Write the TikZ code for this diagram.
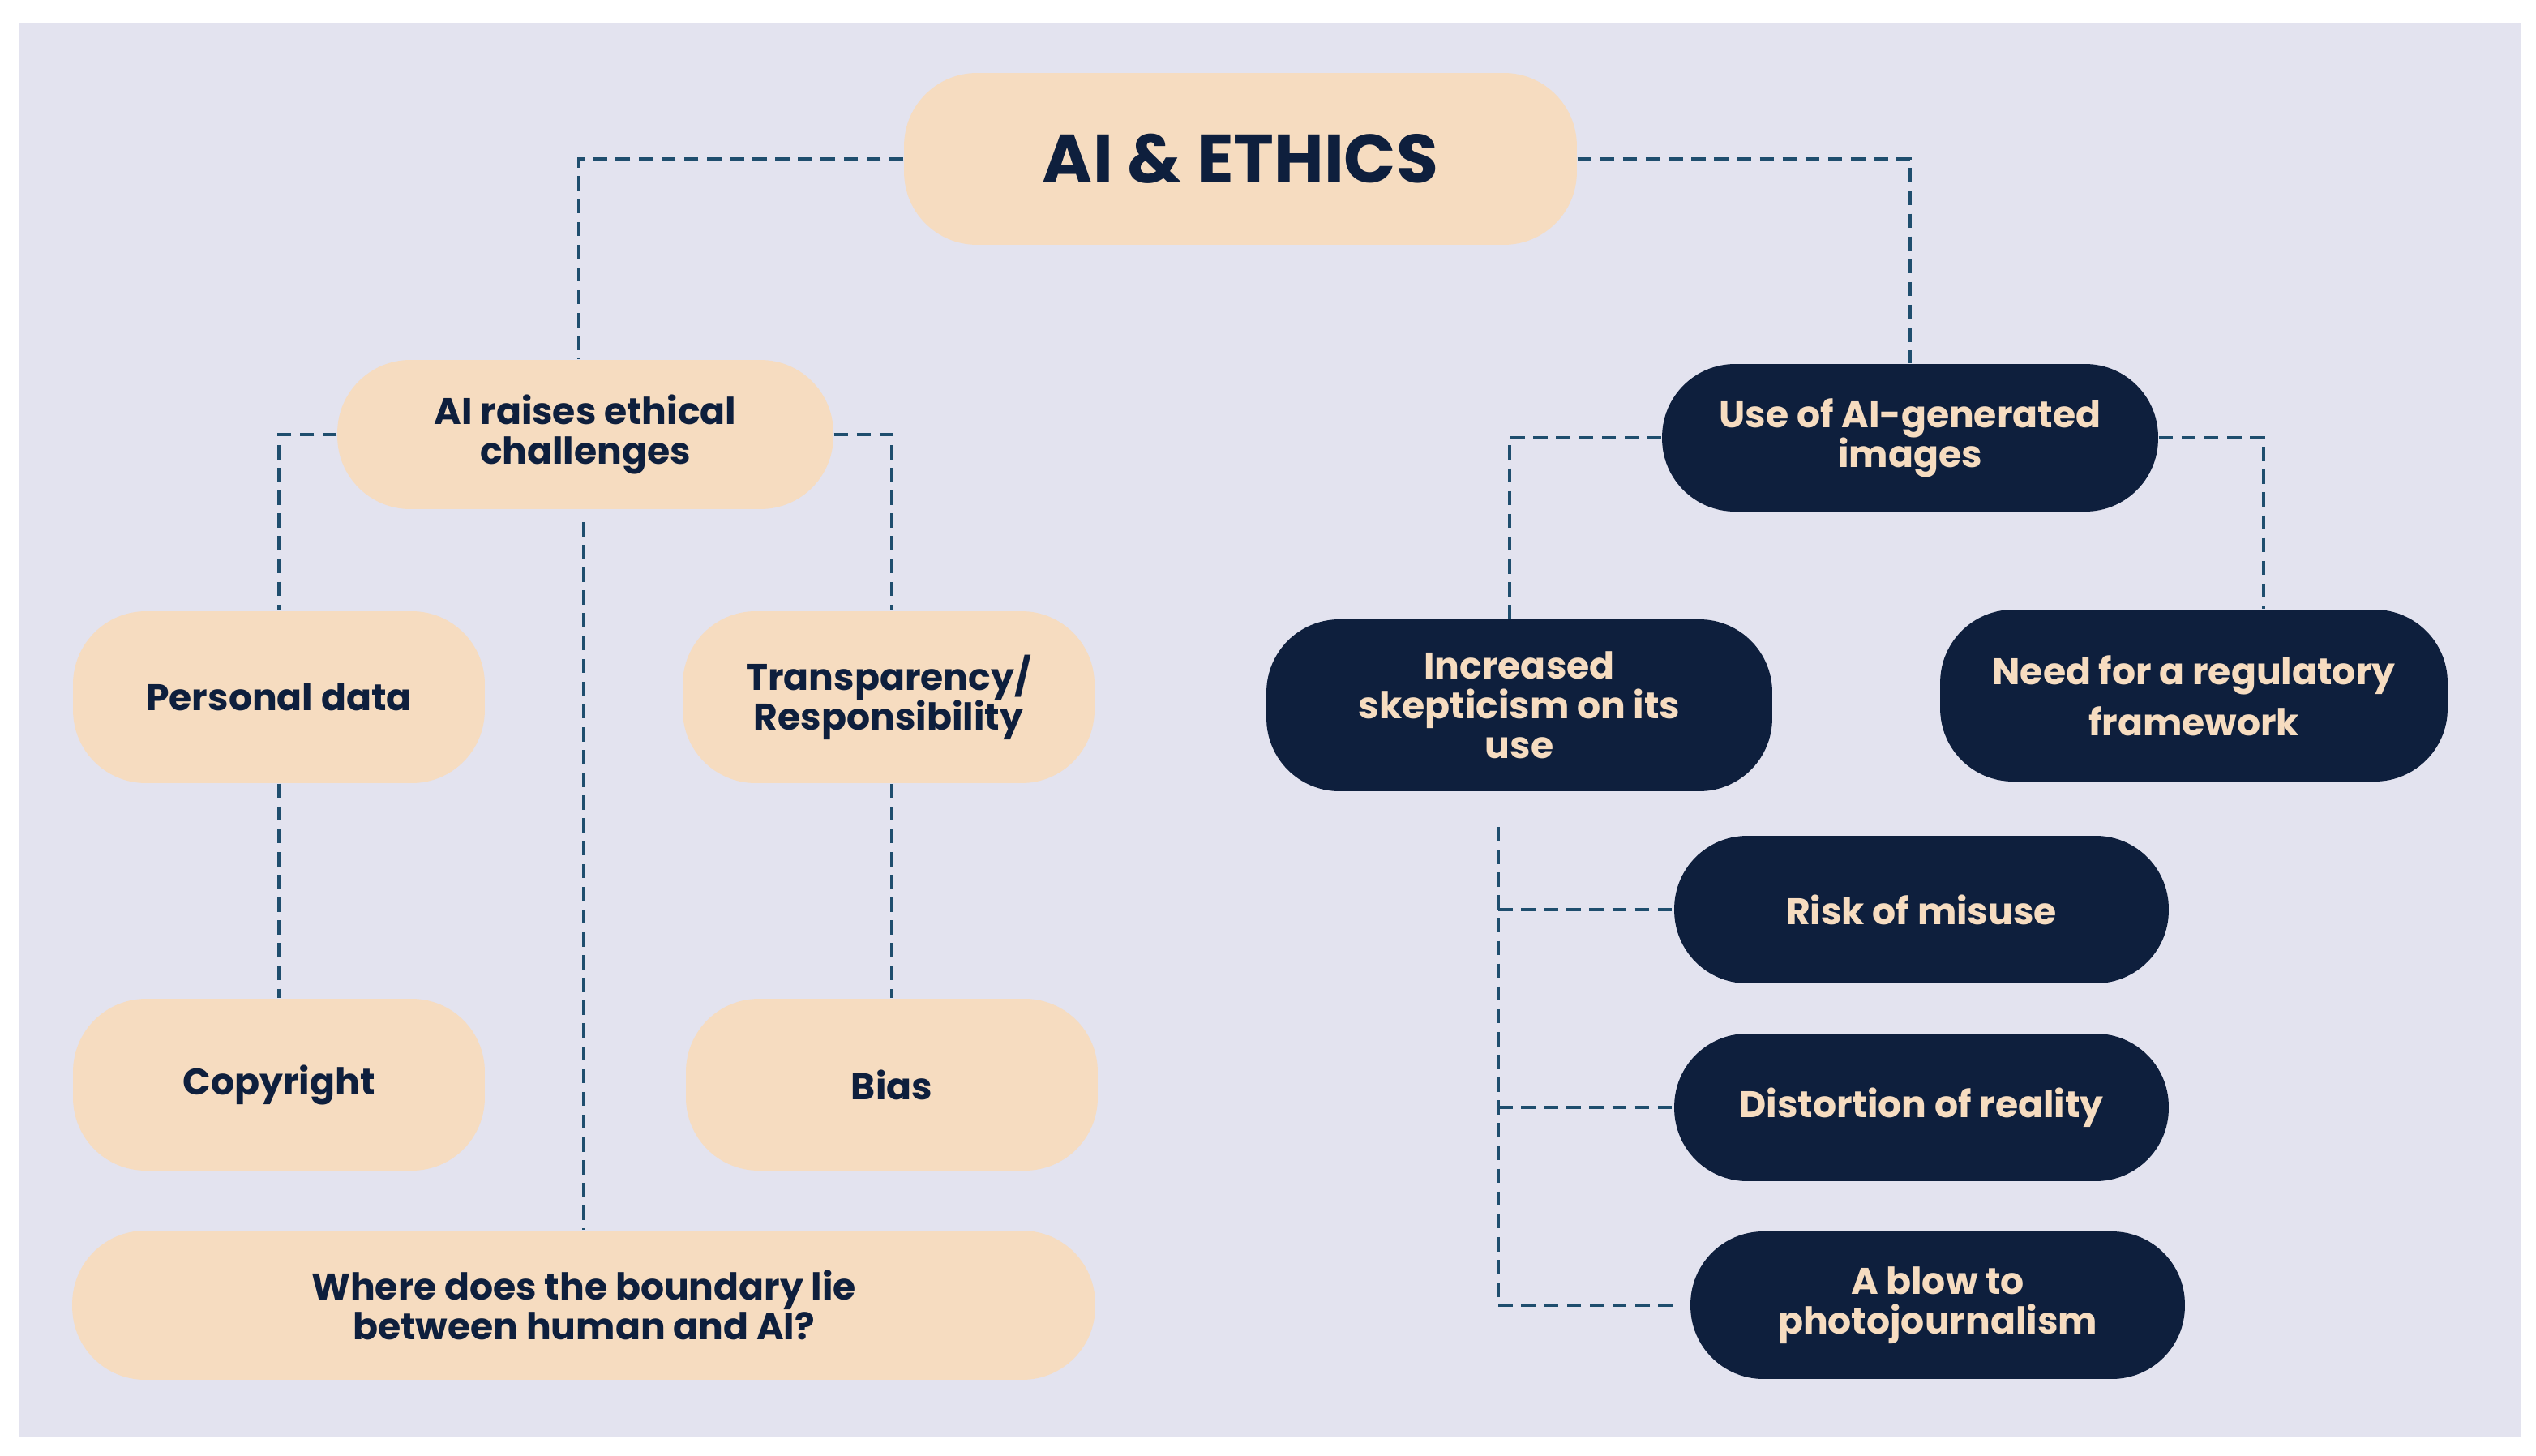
\documentclass[tikz,border=0pt]{standalone}
\usepackage{fontspec}
\setmainfont{Poppins}
\usetikzlibrary{positioning, calc}
\definecolor{bgcol}{HTML}{E3E3EF}
\definecolor{peach}{HTML}{F6DCC0}
\definecolor{navy}{HTML}{0E1F3D}
\definecolor{linecol}{HTML}{1F4E6E}
\tikzset{
  box/.style={rectangle, rounded corners=0.9cm, align=center, font=\fontsize{13}{14}\selectfont\bfseries, inner sep=0pt},
  light/.style={box, fill=peach, text=navy},
  dark/.style={box, fill=navy, text=peach},
  link/.style={draw=linecol, dashed, line width=1.2pt, dash pattern=on 5pt off 3pt},
}
\begin{document}
\begin{tikzpicture}[x=0.02cm, y=-0.02cm]
    \fill[white] (0,0) rectangle (1564,898);
    \fill[bgcol] (12,14) rectangle (1555,886);

    \node (ethics) [light, minimum width=8.3cm, minimum height=2.12cm, font=\fontsize{24}{26}\selectfont\bfseries] at (765,98) {AI \& ETHICS};
    \node (raises) [light, minimum width=6.12cm, minimum height=1.84cm] at (361,268) {AI raises ethical\\challenges};
    \node (personal) [light, minimum width=5.08cm, minimum height=2.12cm] at (172,430) {Personal data};
    \node (transp) [light, minimum width=5.08cm, minimum height=2.12cm] at (548,430) {Transparency/\\Responsibility};
    \node (copy) [light, minimum width=5.08cm, minimum height=2.12cm] at (172,669) {Copyright};
    \node (bias) [light, minimum width=5.08cm, minimum height=2.12cm] at (550,669) {Bias};
    \node (where) [light, minimum width=12.62cm, minimum height=1.84cm] at (360,805) {Where does the boundary lie\\between human and AI?};

    \node (images) [dark, minimum width=6.12cm, minimum height=1.82cm] at (1178,270) {Use of AI-generated\\images};
    \node (skept) [dark, minimum width=6.24cm, minimum height=2.12cm] at (937,435) {Increased\\skepticism on its\\use};
    \node (need) [dark, minimum width=6.26cm, minimum height=2.12cm] at (1353,429) {Need for a regulatory\\[4pt]framework};
    \node (risk) [dark, minimum width=6.1cm, minimum height=1.82cm] at (1185,561) {Risk of misuse};
    \node (distort) [dark, minimum width=6.1cm, minimum height=1.82cm] at (1185,683) {Distortion of reality};
    \node (blow) [dark, minimum width=6.1cm, minimum height=1.82cm] at (1195,805) {A blow to\\photojournalism};
    \coordinate (raisesfoot) at (360,322);
    \coordinate (skeptfoot) at (924,510);

    \draw[link] (ethics.west) -| (raises.north -| 357,0);
    \draw[link] (ethics.east) -| (images.north);
    \draw[link] (raises.west) -| (personal.north);
    \draw[link] (raises.east) -| (transp.north -| 550,0);
    \draw[link] (personal.south) -- (copy.north);
    \draw[link] (transp.south -| 550,0) -- (bias.north);
    \draw[link] (raisesfoot) -- (where.north);
    \draw[link] (images.west) -| (skept.north -| 931,0);
    \draw[link] (images.east) -| (need.north -| 1396,0);
    \draw[link] (skeptfoot) |- (blow.west -| 1033,0);
    \draw[link] (skeptfoot |- risk.west) -- (risk.west);
    \draw[link] (skeptfoot |- distort.west) -- (distort.west);
\end{tikzpicture}
\end{document}
